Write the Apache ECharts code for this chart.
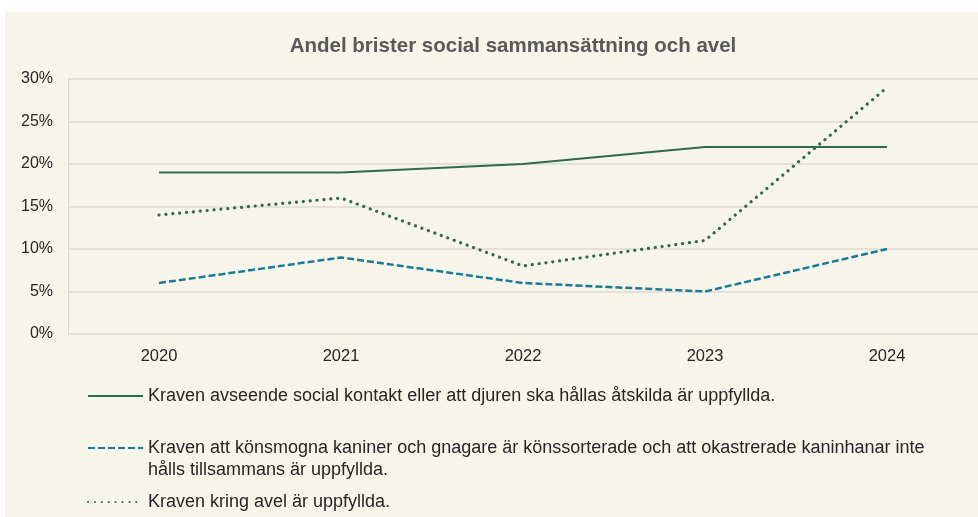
<!DOCTYPE html>
<html>
<head>
<meta charset="utf-8">
<script src="https://cdn.jsdelivr.net/npm/echarts@6/dist/echarts.min.js"></script>
<style>
  html, body { margin: 0; padding: 0; background: #ffffff; }
  #container { position: absolute; left: 5px; top: 12px; width: 973px; height: 505px; background: #F7F5EA; }
</style>
</head>
<body>
<div id="container"></div>
<script>
var years = ['2020', '2021', '2022', '2023', '2024'];
var socialKontakt = [19, 19, 20, 22, 22];
var konssortering = [6, 9, 6, 5, 10];
var avel = [14, 16, 8, 11, 29];

var nameSocial = 'Kraven avseende social kontakt eller att djuren ska hållas åtskilda är uppfyllda.';
var nameKons = 'Kraven att könsmogna kaniner och gnagare är könssorterade och att okastrerade kaninhanar inte hålls tillsammans är uppfyllda.';
var nameAvel = 'Kraven kring avel är uppfyllda.';

var font = '"Liberation Sans", Arial, sans-serif';

var dom = document.getElementById('container');
var myChart = echarts.init(dom, null, { renderer: 'canvas' });

// one legend per row so each can sit where the reference puts it
// blank first line keeps the icon level with the first text line on wrapped items
function legendAt(name, top, blankFirst) {
  return {
    data: [name],
    left: 77,
    top: top,
    orient: 'vertical',
    itemWidth: 55,
    itemHeight: 14,
    selectedMode: false,
    itemStyle: { opacity: 0 },
    formatter: function (n) { return blankFirst ? ' \n' + n : n; },
    textStyle: {
      fontFamily: font,
      fontSize: 18,
      color: '#262626',
      width: 815,
      overflow: 'break',
      lineHeight: 22
    }
  };
}

var option = {
  animation: false,
  title: {
    text: 'Andel brister social sammansättning och avel',
    left: 503,
    top: 19,
    textAlign: 'center',
    textStyle: { fontFamily: font, fontSize: 20.5, fontWeight: 'bold', color: '#595959' }
  },
  legend: [
    legendAt(nameSocial, 368, false),
    legendAt(nameKons, 398, true),
    legendAt(nameAvel, 474, false)
  ],
  grid: { left: 63, right: 0, top: 67, bottom: 183 },
  xAxis: {
    type: 'category',
    data: years,
    boundaryGap: true,
    axisLine: { show: false },
    axisTick: { show: false },
    axisLabel: { fontFamily: font, fontSize: 16.5, color: '#262626', margin: 14 }
  },
  yAxis: {
    type: 'value',
    min: 0,
    max: 30,
    interval: 5,
    axisLine: { show: true, lineStyle: { color: '#D9D9D9', width: 1 } },
    axisTick: { show: false },
    splitLine: { lineStyle: { color: '#DCDAD3', width: 1.5 } },
    axisLabel: { fontFamily: font, fontSize: 16, color: '#262626', margin: 15, formatter: '{value}%' }
  },
  series: [
    {
      name: nameSocial,
      type: 'line',
      data: socialKontakt,
      symbol: 'none',
      lineStyle: { color: '#2F6A4C', width: 2 },
      itemStyle: { color: '#2F6A4C' }
    },
    {
      name: nameKons,
      type: 'line',
      data: konssortering,
      symbol: 'none',
      lineStyle: { color: '#1B7A99', width: 2.5, type: [7, 3] },
      itemStyle: { color: '#1B7A99' }
    },
    {
      name: nameAvel,
      type: 'line',
      data: avel,
      symbol: 'none',
      lineStyle: { color: '#2F6A4C', width: 3.2, type: [0.1, 6.8], cap: 'round' },
      itemStyle: { color: '#2F6A4C' }
    }
  ]
};

myChart.setOption(option);
window.addEventListener('resize', myChart.resize);
</script>
</body>
</html>
